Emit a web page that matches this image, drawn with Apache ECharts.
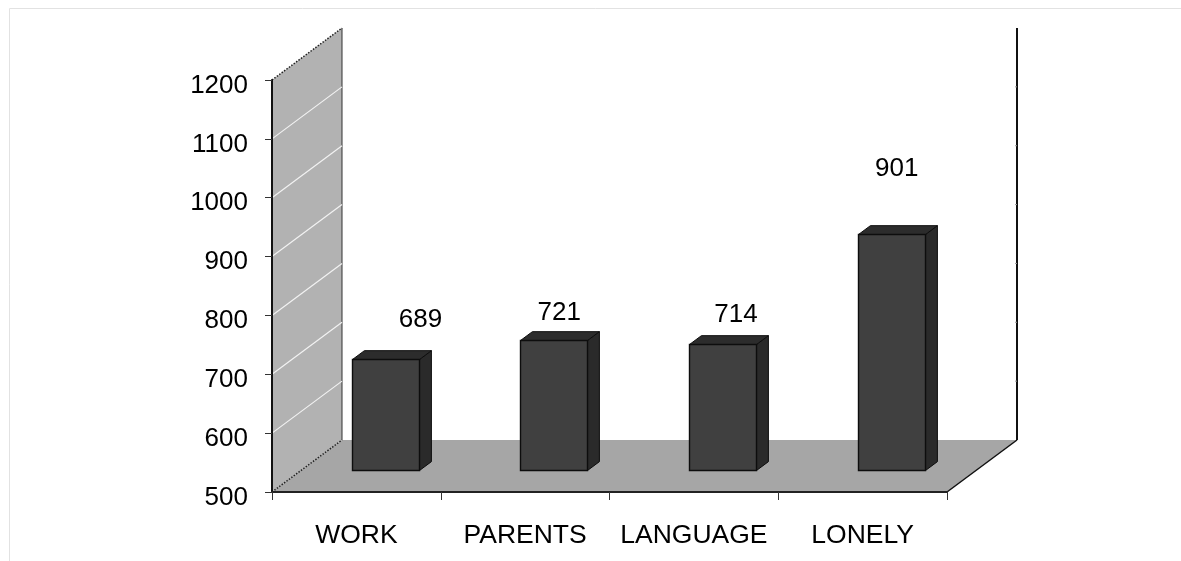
<!DOCTYPE html>
<html>
<head>
<meta charset="utf-8">
<style>html,body{margin:0;padding:0;background:#fff}#c{width:1181px;height:561px}</style>
<script src="https://cdn.jsdelivr.net/npm/echarts@6/dist/echarts.min.js"></script>
</head>
<body>
<div id="c"></div>
<script>
const categories = ['WORK', 'PARENTS', 'LANGUAGE', 'LONELY'];
const values = [689, 721, 714, 901];
const tickLabels = [500, 600, 700, 800, 900, 1000, 1100, 1200];
// label placement relative to each bar's top centre
const labelNudgeX = [35, 5, 13, 5];
const labelNudgeY = [39, 28, 30, 66];

const FONT = '"Liberation Sans", Arial, sans-serif';
const FS = 26;
const DX = 70 / 675, DY = 52 / 412;        // wall/floor depth as a fraction of the plot
const BAR_FRONT = 0.415, BAR_DEPTH = 0.17; // bar position within that depth
const BAR_W = 0.4;                         // bar width as a share of a band

function depth(params) {
  const c = params.coordSys;
  return { c, dx: c.width * DX, dy: c.height * DY };
}
function poly(points, fill, stroke, lineWidth, dash) {
  return {
    type: 'polygon',
    shape: { points },
    style: { fill, stroke: stroke || null, lineWidth: lineWidth || 0, lineDash: dash || null }
  };
}
function line(x1, y1, x2, y2, stroke, lineWidth, dash) {
  return {
    type: 'line',
    shape: { x1, y1, x2, y2 },
    style: { stroke, lineWidth, lineDash: dash || null, fill: null }
  };
}

function renderRoom(params, api) {
  const { c, dx, dy } = depth(params);
  const L = c.x, R = c.x + c.width, T = c.y, B = c.y + c.height;
  return {
    type: 'group',
    children: [
      poly([[L, T], [L + dx, T - dy], [L + dx, B - dy], [L, B]], '#b2b2b2'),
      poly([[L, B], [L + dx, B - dy], [R + dx, B - dy], [R, B]], '#a6a6a6'),
      line(L, T, L + dx, T - dy, '#222', 1.5, [1.5, 1.5]),
      line(L, B, L + dx, B - dy, '#222', 1.5, [1.5, 1.5]),
      line(L + dx, T - dy, L + dx, B - dy, '#333', 1),
      line(R, B, R + dx, B - dy, '#111', 1.5),
      line(R + dx, T - dy, R + dx, B - dy, '#111', 2)
    ]
  };
}
function renderTick(params, api) {
  const { c, dx, dy } = depth(params);
  const y = api.coord([0, api.value(0)])[1];
  const Rb = c.x + c.width + dx;
  return {
    type: 'group',
    children: [
      line(c.x, y, c.x + dx, y - dy, '#f2f2f2', 1.2),
      line(Rb - 2, y - dy, Rb, y - dy, '#999', 1)
    ]
  };
}
function renderBar(params, api) {
  const { dx, dy } = depth(params);
  const i = api.value(0), v = api.value(1);
  const band = api.size([1, 0])[0];
  const top = api.coord([i, v]), base = api.coord([i, 500]);
  const w = band * BAR_W;
  const ox = dx * BAR_FRONT, oy = dy * BAR_FRONT;
  const bx = dx * BAR_DEPTH, by = dy * BAR_DEPTH;
  const x0 = Math.round(top[0] + ox - w / 2) + 0.5;
  const xr = x0 + Math.floor(w);
  const yt = Math.round(top[1] - oy) + 0.5, yb = Math.round(base[1] - oy) + 0.5;
  const edge = '#0d0d0d';
  return {
    type: 'group',
    children: [
      poly([[xr, yt], [xr + bx, yt - by], [xr + bx, yb - by], [xr, yb]], '#2a2a2a', edge, 1),
      poly([[x0, yt], [x0 + bx, yt - by], [xr + bx, yt - by], [xr, yt]], '#2c2c2c', edge, 1),
      poly([[x0, yt], [xr, yt], [xr, yb], [x0, yb]], '#404040', edge, 1.4),
      {
        type: 'text',
        style: {
          text: String(v),
          x: top[0] + ox + labelNudgeX[i],
          y: top[1] - oy - labelNudgeY[i],
          align: 'center',
          verticalAlign: 'middle',
          fill: '#000',
          font: FS + 'px ' + FONT
        }
      }
    ]
  };
}

const chart = echarts.init(document.getElementById('c'), null, { renderer: 'canvas' });
chart.setOption({
  animation: false,
  backgroundColor: '#fff',
  graphic: [
    { type: 'line', silent: true, shape: { x1: 9.5, y1: 8.5, x2: 1181, y2: 8.5 }, style: { stroke: '#e2e2e2', lineWidth: 1 } },
    { type: 'line', silent: true, shape: { x1: 9.5, y1: 8.5, x2: 9.5, y2: 561 }, style: { stroke: '#e2e2e2', lineWidth: 1 } }
  ],
  grid: { left: 272, right: 234, top: 80, bottom: 69 },
  xAxis: {
    type: 'category',
    z: 10,
    data: categories,
    axisLine: { lineStyle: { color: '#222', width: 2 } },
    axisTick: { show: true, alignWithLabel: false, length: 8, lineStyle: { color: '#333', width: 1 } },
    axisLabel: { interval: 0, hideOverlap: false, margin: 30, color: '#000', fontSize: 26.5, fontFamily: FONT }
  },
  yAxis: {
    type: 'value',
    z: 10,
    min: 500,
    max: 1200,
    interval: 100,
    axisLine: { show: true, lineStyle: { color: '#111', width: 2 } },
    axisTick: { show: true, length: 7, lineStyle: { color: '#333', width: 1 } },
    splitLine: { show: false },
    axisLabel: {
      margin: 24,
      color: '#000',
      fontSize: FS,
      fontFamily: FONT,
      verticalAlign: 'top',
      lineHeight: 11,
      formatter: v => String(v)
    }
  },
  series: [
    { type: 'custom', coordinateSystem: 'cartesian2d', silent: true, z: 1, renderItem: renderRoom, data: [[0, 500]] },
    { type: 'custom', coordinateSystem: 'cartesian2d', silent: true, z: 2, renderItem: renderTick,
      encode: { y: 0 }, data: tickLabels.slice(1, -1).map(t => [t]) },
    { type: 'custom', coordinateSystem: 'cartesian2d', silent: true, z: 3, renderItem: renderBar,
      encode: { x: 0, y: 1 }, data: values.map((v, i) => [i, v]) }
  ]
});
</script>
</body>
</html>
